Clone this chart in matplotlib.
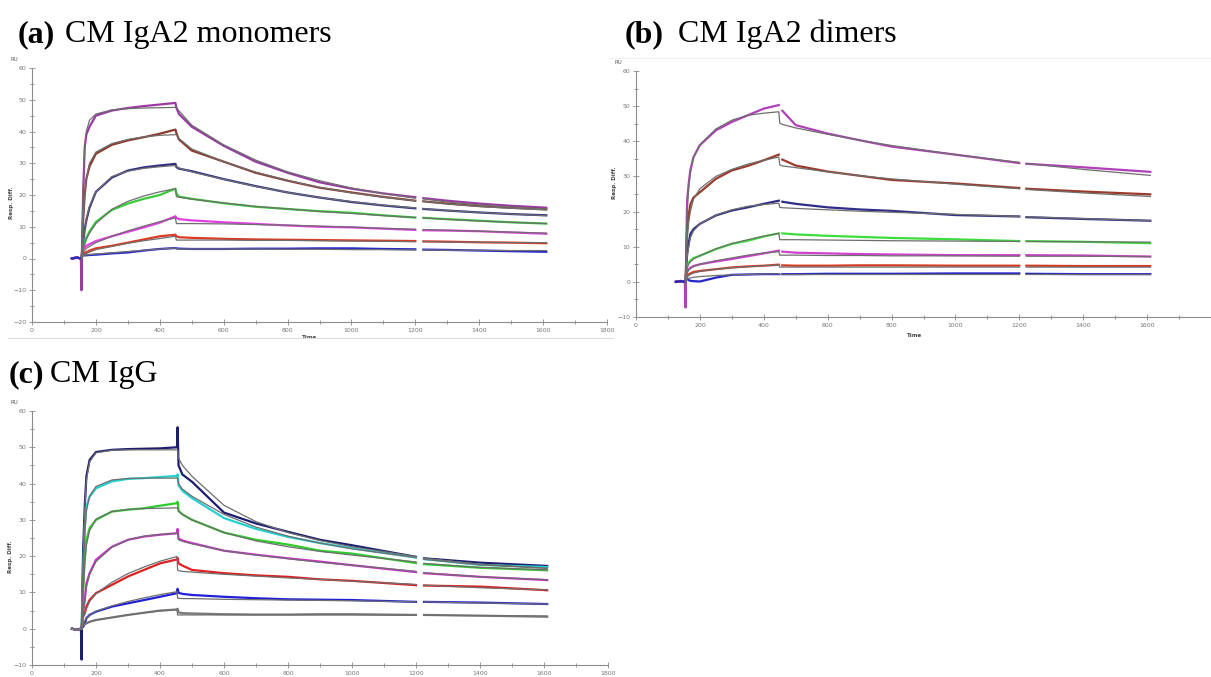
import matplotlib
matplotlib.use('Agg')
import matplotlib.pyplot as plt
from matplotlib.lines import Line2D
import numpy as np

nan = np.nan

#
# Panel (a): CM IgA2 monomers  -- time [s] and response [RU], data + fits
#
ta = [125, 140, 153, 155, 157, 160, 165, 170, 180, 200, 250, 300, 350, 400, 449, 452,
      460, 500, 600, 700, 800, 900, 1000, 1100, 1200, 1212, 1225, 1300, 1400, 1500, 1610]
a1 = [0, 0.3, 0, -10, 5, 20, 35, 39, 41.5, 45, 46.6, 47.4, 48, 48.5, 49, 47.5,
      45.5, 41.5, 35.5, 30.5, 27, 24, 22, 20.5, 19.3, nan, 19, 18.2, 17.3, 16.6, 16]
a2 = [0, 0.3, 0, 0, 3, 12, 20, 25, 29, 33, 35.8, 37.2, 38.2, 39.3, 40.6, 39.5,
      37.5, 34, 30.5, 27, 24.5, 22.3, 20.8, 19.4, 18.2, nan, 18, 17.3, 16.5, 16, 15.5]
a3 = [0, 0.3, 0, 0, 2, 5, 9, 12, 16, 21, 25.5, 27.7, 28.7, 29.3, 29.8, 28.8,
      28.3, 27.5, 25, 22.8, 20.8, 19.2, 17.8, 16.7, 15.8, nan, 15.6, 15.1, 14.5, 14, 13.6]
a4 = [0, 0.3, 0, 0, 1.5, 3, 5, 6.5, 8.5, 11.5, 15.3, 17.3, 18.8, 20, 22, 20.5,
      19.5, 18.8, 17.4, 16.3, 15.6, 14.9, 14.4, 13.6, 12.9, nan, 12.8, 12.4, 11.9, 11.4, 11]
a5 = [0, 0.3, 0, 0, 1.5, 3, 3.5, 4, 4.5, 5.5, 7, 8.4, 9.8, 11.3, 13.3, 12.8,
      12.4, 12, 11.4, 10.9, 10.4, 10, 9.8, 9.4, 9, nan, 8.9, 8.8, 8.6, 8.2, 7.8]
a6 = [0, 0.3, 0, 0, 1, 1.5, 1.8, 2, 2.5, 3.2, 4, 5, 6, 7, 7.5, 7,
      6.7, 6.5, 6.2, 6, 5.9, 5.8, 5.7, 5.6, 5.5, nan, 5.4, 5.3, 5.1, 5, 4.8]
a7 = [0, 0.3, 0, 0, 1, 1, 1, 1, 1.1, 1.2, 1.6, 1.9, 2.5, 3, 3.3, 3.2,
      3.1, 3, 3, 3.1, 3.1, 3.2, 3.2, 3, 2.9, nan, 2.8, 2.7, 2.5, 2.3, 2.1]
fa1 = [nan, nan, nan, 0, 8, 22, 35, 40, 43.5, 45.5, 46.8, 47.2, 47.4, 47.5, 47.6, 47.6,
       46.5, 42, 35.8, 31, 27.3, 24.5, 22.2, 20.4, 19, nan, 18.8, 17.8, 16.9, 16.2, 15.6]
fa2 = [nan, nan, nan, 0, 4, 12, 20, 25, 30, 33.5, 36.2, 37.5, 38.3, 38.8, 39, 39,
       37.8, 34.5, 30.5, 27.2, 24.6, 22.4, 20.7, 19.3, 18.2, nan, 18, 17.2, 16.4, 15.8, 15.3]
fa3 = [nan, nan, nan, 0, 2, 5, 9, 12.5, 16.5, 21, 25.8, 27.5, 28.4, 28.9, 29.3, 29,
       28.5, 27.3, 24.9, 22.7, 20.8, 19.2, 17.9, 16.8, 15.9, nan, 15.7, 15.1, 14.5, 14, 13.5]
fa4 = [nan, nan, nan, 0, 1.5, 3, 4.5, 6, 8, 11, 15.5, 18, 19.7, 21, 22, 19.5,
       19.3, 18.7, 17.5, 16.4, 15.6, 14.8, 14.2, 13.5, 12.9, nan, 12.8, 12.3, 11.8, 11.4, 11]
fa5 = [nan, nan, nan, 0, 1, 2, 2.6, 3.2, 3.8, 5, 7, 8.7, 10.2, 11.6, 12.8, 11,
       11, 11, 10.9, 10.7, 10.5, 10.2, 9.9, 9.5, 9.2, nan, 9.1, 8.9, 8.6, 8.3, 8]
fa6 = [nan, nan, nan, 0, 0.6, 1, 1.3, 1.6, 2, 2.8, 3.8, 4.8, 5.6, 6.3, 7, 5.8,
       5.8, 5.8, 5.8, 5.7, 5.7, 5.6, 5.5, 5.4, 5.3, nan, 5.3, 5.2, 5.1, 5, 5]
fa7 = [nan, nan, nan, 0, 0.5, 0.8, 1, 1.1, 1.2, 1.4, 1.8, 2.2, 2.6, 3, 3.3, 3,
       3, 3, 3, 3, 2.9, 2.9, 2.8, 2.8, 2.7, nan, 2.7, 2.6, 2.6, 2.5, 2.5]
colors_a = ['#9a3aa4', '#8e3b2c', '#2e2e88', '#35cc35', '#e040e0', '#dd3a22', '#2a2ad0']

#
# Panel (b): CM IgA2 dimers
#
tb = [125, 140, 153, 155, 157, 160, 165, 170, 180, 200, 250, 300, 350, 400, 447, 450,
      458, 500, 600, 700, 800, 1000, 1200, 1210, 1222, 1400, 1610]
b1 = [0, 0.3, 0, -7.3, 8, 23, 28, 31.7, 35.5, 38.9, 43.1, 45.5, 47.4, 49.3, 50.3, nan,
      48.7, 44.6, 42.2, 40.3, 38.5, 36.2, 33.8, nan, 33.6, 32.6, 31.3]
b2 = [0, 0.2, 0, 0, 5, 15, 19, 22, 24, 25.5, 29.3, 31.7, 33, 34.6, 36.2, nan,
      34.8, 33.1, 31.4, 30.2, 29, 28, 26.7, nan, 26.5, 25.7, 24.9]
b3 = [0, 0.2, 0, 0, 3, 8, 11, 13.6, 15, 16.5, 18.9, 20.3, 21.2, 22.2, 23.1, nan,
      22.8, 22.2, 21.2, 20.6, 20.2, 19, 18.6, nan, 18.4, 17.9, 17.4]
b4 = [0, 0.2, 0, 0, 2, 4.6, 5.5, 6, 6.8, 7.4, 9.3, 10.8, 11.7, 12.9, 13.8, nan,
      13.8, 13.5, 13.1, 12.8, 12.5, 12.1, 11.6, nan, 11.6, 11.4, 11]
b5 = [0, 0.2, 0, 0, 1.5, 3.1, 3.6, 4, 4.5, 5, 5.8, 6.5, 7.3, 8.1, 8.9, nan,
      8.6, 8.3, 8.1, 7.9, 7.8, 7.6, 7.6, nan, 7.6, 7.5, 7.2]
b6 = [0, 0.2, 0, 0, 1, 1.7, 2.1, 2.4, 2.8, 3.1, 3.6, 4.1, 4.4, 4.6, 4.9, nan,
      4.7, 4.6, 4.6, 4.7, 4.7, 4.6, 4.6, nan, 4.6, 4.5, 4.5]
b7 = [0, 0.2, 0, 0, 0.8, 0.8, 0.5, 0.3, 0.2, 0.1, 1.2, 2, 2.1, 2.2, 2.2, nan,
      2.2, 2.2, 2.3, 2.3, 2.3, 2.4, 2.4, nan, 2.3, 2.2, 2.2]
fb1 = [nan, nan, nan, 0, 10, 20, 27, 31, 35.5, 39, 43.5, 46, 47.4, 48, 48.4, 45.2,
       44.8, 43.8, 42, 40.3, 38.8, 36.2, 34, nan, 33.7, 32, 30.3]
fb2 = [nan, nan, nan, 0, 5, 12, 17, 20, 23.5, 26.5, 30, 32, 33.5, 34.6, 35.5, 33.3,
       33, 32.5, 31.3, 30.2, 29.3, 27.8, 26.5, nan, 26.3, 25.3, 24.3]
fb3 = [nan, nan, nan, 0, 3, 7, 10, 12.5, 14.5, 16.5, 19, 20.5, 21.5, 22, 22.4, 21.2,
       21.1, 20.9, 20.5, 20.1, 19.8, 19.2, 18.6, nan, 18.5, 18, 17.4]
fb4 = [nan, nan, nan, 0, 2, 4, 5, 5.7, 6.5, 7.5, 9.4, 10.9, 12, 13, 13.8, 12,
       12, 12, 11.9, 11.8, 11.7, 11.6, 11.5, nan, 11.5, 11.4, 11.3]
fb5 = [nan, nan, nan, 0, 1.2, 2.5, 3.3, 3.8, 4.4, 5, 6, 6.8, 7.6, 8.2, 8.6, 7.6,
       7.6, 7.6, 7.5, 7.5, 7.4, 7.4, 7.3, nan, 7.3, 7.3, 7.2]
fb6 = [nan, nan, nan, 0, 0.7, 1.3, 1.8, 2.1, 2.5, 3, 3.6, 4, 4.3, 4.6, 4.8, 4.2,
       4.2, 4.2, 4.2, 4.2, 4.2, 4.2, 4.2, nan, 4.2, 4.2, 4.2]
fb7 = [nan, nan, nan, 0, 0.5, 0.8, 1, 1.1, 1.3, 1.5, 1.8, 2, 2.1, 2.2, 2.3, 2.1,
       2.1, 2.1, 2.1, 2.1, 2.1, 2.1, 2.1, nan, 2.1, 2.1, 2.1]
colors_b = ['#b040b8', '#9b3b2b', '#2e2e88', '#3ddd3d', '#d040d0', '#d83a20', '#2525cc']

#
# Panel (c): CM IgG
#
tc = [125, 140, 153, 155, 157, 160, 165, 170, 180, 200, 250, 300, 350, 400, 453, 455,
      458, 470, 500, 600, 700, 800, 900, 1000, 1200, 1212, 1225, 1400, 1610]
c1 = [0, -0.3, 0, -8.5, 10, 22, 34, 42, 46.5, 48.7, 49.3, 49.5, 49.6, 49.7, 50, 55.5,
      45, 42.5, 40.5, 32, 29, 26.7, 24.5, 23, 19.8, nan, 19.4, 18.2, 17.3]
c2 = [0, -0.3, 0, 0, 6, 16, 28, 33.7, 36.4, 38.7, 40.6, 41.3, 41.5, 41.8, 42.1, 42.5,
      39.5, 38, 36, 30.5, 27.5, 25.3, 23.6, 22.2, 19.6, nan, 19.2, 17.6, 17]
c3 = [0, -0.3, 0, 0, 4, 11, 19.9, 24.5, 27.7, 30, 32.3, 32.8, 33.2, 33.9, 34.6, 35,
      32.5, 31.5, 30, 26.5, 24.5, 23.2, 21.5, 20.7, 18.1, nan, 17.8, 16.8, 16.1]
c4 = [0, -0.3, 0, 0, 2.5, 5, 7.9, 12.5, 15.3, 19, 22.6, 24.5, 25.4, 25.9, 26.3, 27.5,
      24.8, 24.3, 23.6, 21.5, 20.4, 19.4, 18.5, 17.5, 15.6, nan, 15.3, 14.3, 13.4]
c5 = [0, -0.3, 0, 0, 2, 3.5, 4.2, 6.1, 7.9, 9.8, 12.1, 14.4, 16.2, 18, 19.1, 19.5,
      18, 17.4, 16.2, 15.3, 14.7, 14.3, 13.6, 13.2, 12, nan, 11.9, 11.6, 10.6]
c6 = [0, -0.3, 0, 0, 1, 0.5, 1.5, 2.9, 3.8, 4.7, 6.1, 7, 7.9, 8.8, 9.8, 11,
      9.9, 9.6, 9.3, 8.8, 8.4, 8.1, 8, 7.9, 7.4, nan, 7.4, 7.2, 6.8]
c7 = [0, -0.3, 0, 0, 0.8, 1, 1.2, 1.5, 1.9, 2.4, 3.1, 3.8, 4.4, 5, 5.3, 5.5,
      4.5, 4.3, 4.2, 4, 3.9, 3.9, 4, 4, 3.8, nan, 3.8, 3.6, 3.3]
fc1 = [nan, nan, nan, 0, 8, 20, 33, 41, 46, 48.5, 49.2, 49.3, 49.3, 49.3, 49.3, 49.3,
       47, 45, 42, 34, 29.5, 26.5, 24.3, 22.6, 19.9, nan, 19.4, 17.8, 16.7]
fc2 = [nan, nan, nan, 0, 5, 14, 26, 32.5, 36.5, 39.2, 41, 41.4, 41.5, 41.5, 41.5, 41.5,
       40, 38.5, 36.5, 31.5, 28, 25.5, 23.6, 22, 19.6, nan, 19.1, 17.6, 16.6]
fc3 = [nan, nan, nan, 0, 3.5, 10, 18, 23, 27, 30.2, 32.3, 32.9, 33.1, 33.2, 33.3, 33.3,
       32.3, 31.5, 30, 26.5, 24.2, 22.6, 21.3, 20.3, 18.4, nan, 18, 16.9, 16.2]
fc4 = [nan, nan, nan, 0, 2, 4.5, 8, 11.5, 15, 18.5, 22.5, 24.5, 25.5, 26, 26.3, 26.3,
       24.5, 24.1, 23.4, 21.5, 20.3, 19.3, 18.3, 17.5, 15.8, nan, 15.4, 14.3, 13.5]
fc5 = [nan, nan, nan, 0, 1.5, 3, 4.3, 5.5, 7.5, 9.7, 12.8, 15.2, 17, 18.6, 19.9, 16.2,
       16, 15.8, 15.6, 15, 14.5, 14, 13.6, 13.1, 12.2, nan, 12, 11.3, 10.7]
fc6 = [nan, nan, nan, 0, 0.8, 1.5, 2.2, 2.8, 3.7, 4.8, 6.3, 7.5, 8.5, 9.4, 10.2, 8.4,
       8.4, 8.3, 8.3, 8.1, 8, 7.9, 7.8, 7.7, 7.4, nan, 7.4, 7.1, 6.8]
fc7 = [nan, nan, nan, 0, 0.6, 0.9, 1.2, 1.5, 1.9, 2.4, 3.1, 3.8, 4.4, 4.9, 5.2, 3.8,
       3.8, 3.8, 3.8, 3.8, 3.8, 3.8, 3.8, 3.8, 3.7, nan, 3.7, 3.6, 3.5]
colors_c = ['#1c1c70', '#22d0d0', '#2ccc2c', '#cc30cc', '#dd2020', '#2020d8', '#7a7a7a']

fit_color = '#6e6e6e'
axis_gray = '#8c8c8c'


def style_axes(ax, ymin, ymax, xlab_pos, ylab_pos, time_label=True):
    ax.set_xlim(0, 1800)
    ax.set_ylim(ymin, ymax)
    for s in ['top', 'right']:
        ax.spines[s].set_visible(False)
    for s in ['left', 'bottom']:
        ax.spines[s].set_color(axis_gray)
        ax.spines[s].set_linewidth(0.8)
    ax.set_xticks(np.arange(0, 1801, 200))
    ax.set_xticks(np.arange(0, 1801, 100), minor=True)
    ax.set_yticks(np.arange(ymin, ymax + 1, 10))
    ax.set_yticks(np.arange(ymin, ymax + 1, 5), minor=True)
    ax.tick_params(which='both', direction='inout', length=4, width=0.6,
                   colors=axis_gray, labelsize=4.5, labelcolor='#777777', pad=2)
    ax.tick_params(which='minor', length=3)
    ax.patch.set_alpha(0)
    ax.text(-0.03, 1.035, 'RU', transform=ax.transAxes, fontsize=4,
            color='#555555', ha='center', va='center')
    ax.text(ylab_pos[0], ylab_pos[1], 'Resp. Diff.', transform=ax.transAxes,
            fontsize=4, fontweight='bold', color='#444444', rotation=90,
            ha='center', va='center')
    if time_label:
        ax.text(xlab_pos[0], xlab_pos[1], 'Time', transform=ax.transAxes,
                fontsize=4, fontweight='bold', color='#444444',
                ha='center', va='center')


def plot_panel(ax, t, data, fits, colors):
    for y, c in zip(data, colors):
        ax.plot(t, y, color=c, lw=1.6, solid_joinstyle='round')
    for y in fits:
        ax.plot(t, y, color=fit_color, lw=0.9)


W, H = 1211, 677
fig = plt.figure(figsize=(W / 100, H / 100), dpi=100)

# axes placed in pixel units of the original figure
ax_a = fig.add_axes([32 / W, 1 - 322 / H, 575 / W, 254 / H])
ax_b = fig.add_axes([636 / W, 1 - 317 / H, 575 / W, 246 / H])
ax_c = fig.add_axes([32 / W, 1 - 665 / H, 576 / W, 254 / H])

plot_panel(ax_a, ta, [a1, a2, a3, a4, a5, a6, a7],
           [fa1, fa2, fa3, fa4, fa5, fa6, fa7], colors_a)
plot_panel(ax_b, tb, [b1, b2, b3, b4, b5, b6, b7],
           [fb1, fb2, fb3, fb4, fb5, fb6, fb7], colors_b)
plot_panel(ax_c, tc, [c1, c2, c3, c4, c5, c6, c7],
           [fc1, fc2, fc3, fc4, fc5, fc6, fc7], colors_c)

style_axes(ax_a, -20, 60, (0.483, -0.06), (-0.035, 0.47))
style_axes(ax_b, -10, 60, (0.485, -0.077), (-0.037, 0.545))
style_axes(ax_c, -10, 60, (0.483, -0.06), (-0.038, 0.425), time_label=False)

# the right end of panel (b) is cropped in the original: hide the half "1800"
ax_b.get_xticklabels()[-1].set_visible(False)

# faint frame lines of the pasted screenshots
fig.add_artist(Line2D([8 / W, 613 / W], [1 - 338 / H, 1 - 338 / H],
                      color='#dddddd', lw=0.8))
fig.add_artist(Line2D([610 / W, 1.0], [1 - 58 / H, 1 - 58 / H],
                      color='#eeeeee', lw=0.8))

#
# Panel titles: bold letter, regular name
#
title_font = ['Liberation Serif', 'DejaVu Serif']
titles = [((18, 42), (65, 42), '(a)', 'CM IgA2 monomers'),
          ((625, 42), (678, 42), '(b)', 'CM IgA2 dimers'),
          ((9, 382), (50, 382), '(c)', 'CM IgG')]
for (p1, p2, letter, name) in titles:
    fig.text(p1[0] / W, 1 - p1[1] / H, letter, family=title_font,
             fontweight='bold', fontsize=23, va='baseline', ha='left')
    fig.text(p2[0] / W, 1 - p2[1] / H, name, family=title_font,
             fontsize=23, va='baseline', ha='left')

fig.savefig('out.png', dpi=100)
